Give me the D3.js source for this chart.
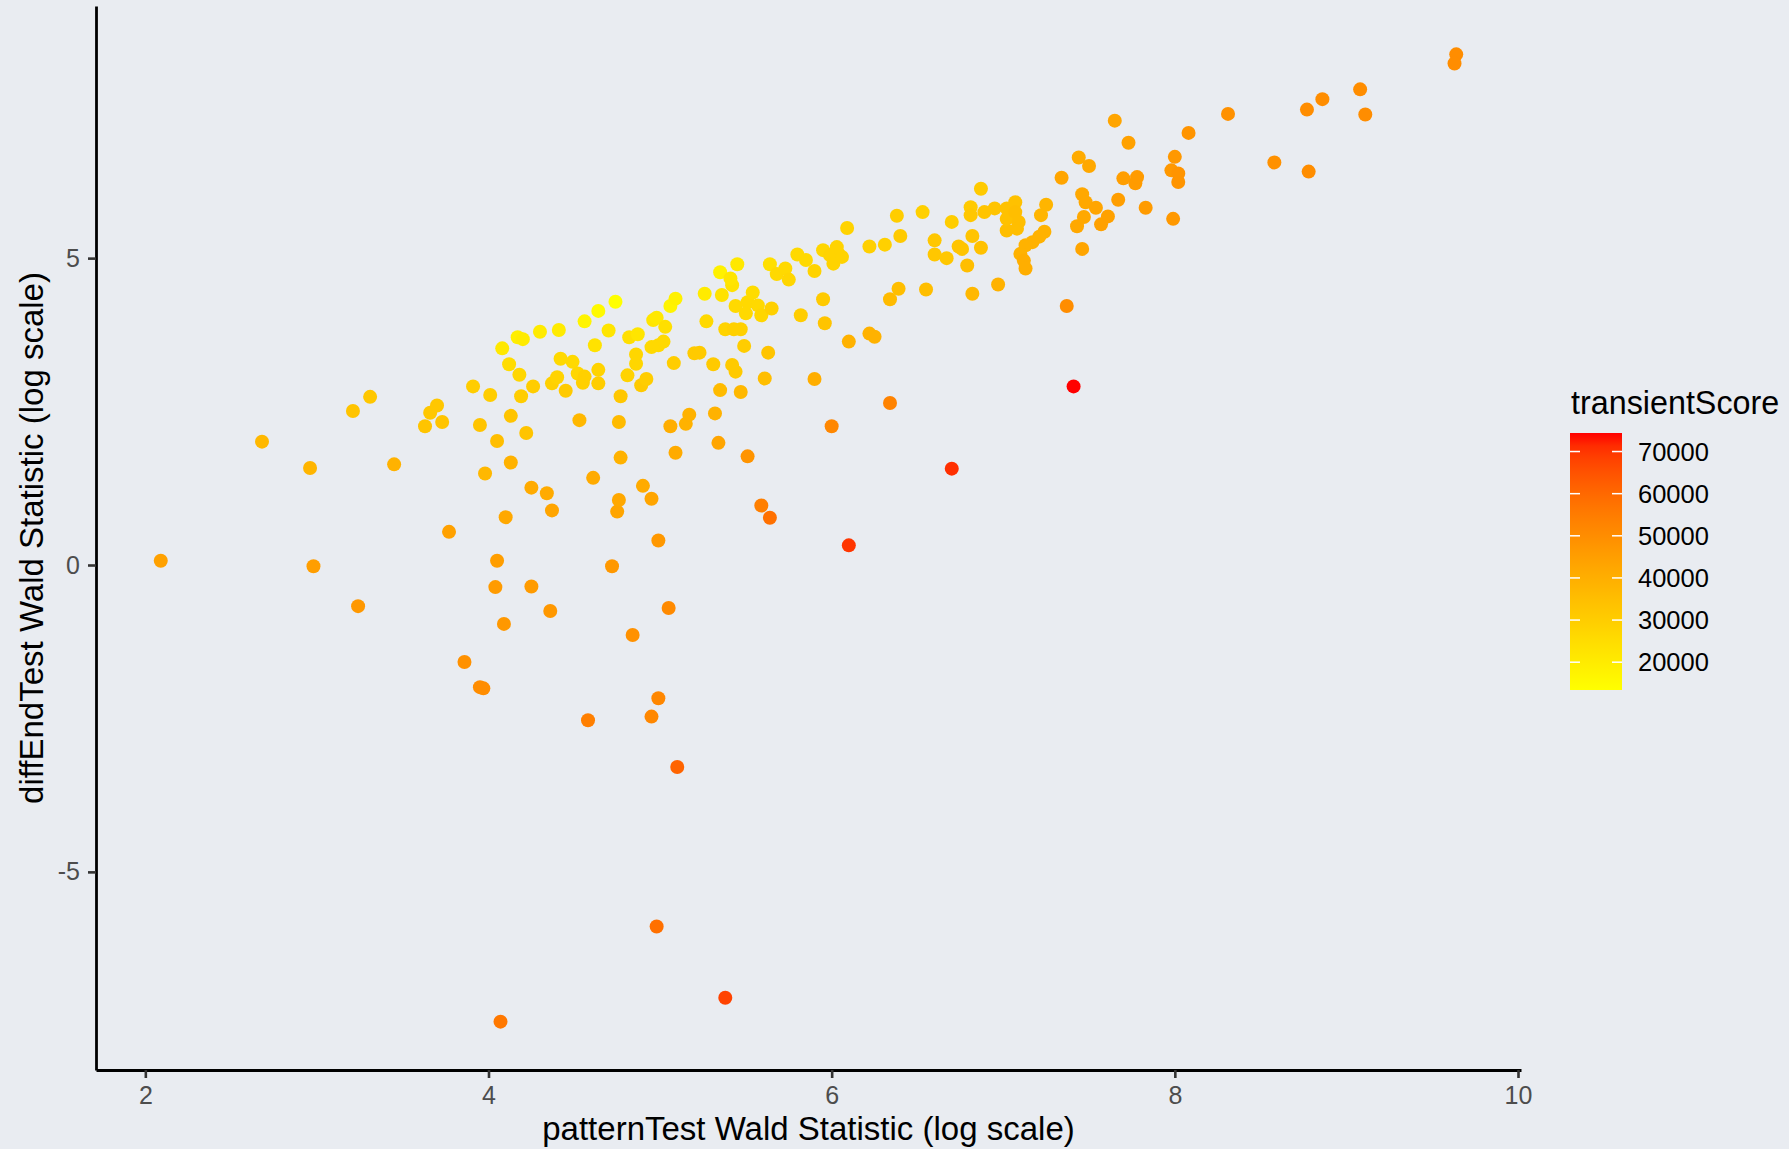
<!DOCTYPE html>
<html>
<head>
<meta charset="utf-8">
<script src="https://cdn.jsdelivr.net/npm/d3@7"></script>
<style>
  html, body { margin: 0; padding: 0; background: #e9ecf1; }
  svg { display: block; font-family: "Liberation Sans", Arial, Helvetica, sans-serif; }
</style>
</head>
<body>
<svg id="chart" width="1789" height="1149"></svg>
<script>
// ---- data ----
const patternTest = [
  2.09, 2.68, 2.96, 2.98, 3.21, 3.31, 3.24, 3.45, 3.63, 3.66,
  3.70, 3.73, 3.77, 3.86, 3.95, 3.97, 3.91, 3.95, 3.98, 4.01,
  4.05, 4.04, 4.05, 4.08, 4.09, 4.10, 4.07, 4.12, 4.13, 4.13,
  4.17, 4.18, 4.20, 4.19, 4.22, 4.25, 4.25, 4.26, 4.30, 4.34,
  4.36, 4.37, 4.37, 4.40, 4.41, 4.42, 4.45, 4.49, 4.52, 4.53,
  4.56, 4.55, 4.56, 4.58, 4.61, 4.62, 4.64, 4.64, 4.64, 4.70,
  4.72, 4.74, 4.75, 4.76, 4.76, 4.77, 4.77, 4.81, 4.82, 4.84,
  4.86, 4.86, 4.87, 4.89, 4.90, 4.92, 4.95, 4.95, 4.95, 4.96,
  4.98, 4.99, 4.99, 4.98, 4.99, 5.02, 5.03, 5.05, 5.06, 5.06,
  5.08, 5.09, 5.09, 5.10, 5.15, 5.17, 5.20, 5.23, 5.26, 5.27,
  5.31, 5.32, 5.34, 5.35, 5.35, 5.36, 5.38, 5.38, 5.42, 5.41,
  5.42, 5.45, 5.43, 5.44, 5.44, 5.47, 5.47, 5.49, 5.51, 5.50,
  5.51, 5.54, 5.57, 5.59, 5.59, 5.61, 5.63, 5.64, 5.64, 5.65,
  5.68, 5.73, 5.75, 5.80, 5.82, 5.85, 5.90, 5.90, 5.95, 5.95,
  5.99, 5.96, 6.01, 6.00, 6.04, 6.03, 6.06, 6.09, 6.10, 6.10,
  6.22, 6.22, 6.25, 6.31, 6.34, 6.34, 6.39, 6.38, 6.40, 6.53,
  6.55, 6.60, 6.60, 6.67, 6.70, 6.70, 6.74, 6.76, 6.79, 6.82,
  6.81, 6.81, 6.82, 6.87, 6.87, 6.89, 6.95, 6.97, 7.02, 7.02,
  7.02, 7.07, 7.07, 7.09, 7.08, 7.25, 7.22, 7.24, 7.21, 7.17,
  7.13, 7.10, 7.12, 7.13, 7.34, 7.37, 7.41, 7.43, 7.44, 7.46,
  7.47, 7.46, 7.48, 7.50, 7.54, 7.57, 7.61, 7.65, 7.67, 7.70,
  7.73, 7.77, 7.78, 7.83, 7.98, 8.00, 7.99, 8.02, 8.02, 8.08,
  8.31, 8.58, 8.77, 8.78, 8.86, 9.08, 9.11, 9.64, 9.63
];
const diffEndTest = [
  0.07, 2.01, 1.58, -0.02, 2.51, 2.74, -0.67, 1.64, 2.26, 2.48,
  2.60, 2.33, 0.54, -1.58, -1.99, -2.01, 2.91, 2.28, 1.49, 2.77,
  0.07, -0.36, 2.02, 3.53, -0.96, 0.78, -7.44, 3.27, 1.67, 2.43,
  3.71, 3.10, 3.68, 2.75, 2.15, 1.26, -0.35, 2.91, 3.80, 1.17,
  -0.75, 0.89, 2.96, 3.06, 3.83, 3.36, 2.84, 3.31, 3.12, 2.36,
  3.07, 2.97, 3.97, -2.53, 1.42, 3.58, 3.18, 4.14, 2.96, 3.82,
  -0.02, 4.29, 0.87, 2.33, 1.06, 2.75, 1.75, 3.09, 3.71, -1.14,
  3.43, 3.28, 3.76, 2.93, 1.29, 3.03, 1.08, -2.47, 3.55, 3.99,
  -5.89, -2.17, 0.40, 4.03, 3.58, 3.64, 3.88, -0.70, 4.22, 2.26,
  3.29, 1.83, 4.34, -3.29, 2.30, 2.45, 3.45, 3.46, 4.42, 3.97,
  3.27, 2.47, 1.99, 2.85, 4.77, 4.40, 3.84, -7.05, 4.56, 4.67,
  3.26, 4.90, 3.84, 3.15, 4.22, 3.84, 2.82, 3.57, 1.77, 4.10,
  4.28, 4.44, 4.23, 4.07, 0.97, 3.04, 3.46, 4.90, 0.77, 4.18,
  4.74, 4.83, 4.65, 5.06, 4.07, 4.97, 3.03, 4.79, 5.13, 4.33,
  5.05, 3.94, 4.91, 2.26, 5.07, 5.18, 5.02, 5.49, 3.64, 0.32,
  3.77, 5.19, 3.72, 5.22, 4.33, 2.64, 4.50, 5.69, 5.36, 5.75,
  4.49, 5.29, 5.06, 5.00, 5.59, 1.57, 5.19, 5.15, 4.88, 5.36,
  5.83, 5.70, 4.42, 5.17, 6.13, 5.75, 5.81, 4.57, 5.81, 5.45,
  5.64, 5.91, 5.75, 5.59, 5.48, 5.87, 5.70, 5.43, 5.35, 5.26,
  5.21, 5.07, 4.96, 4.83, 6.31, 4.22, 2.91, 5.52, 6.64, 6.04,
  5.67, 5.15, 5.91, 6.50, 5.82, 5.55, 5.68, 7.24, 5.95, 6.30,
  6.88, 6.22, 6.32, 5.82, 6.43, 6.65, 5.64, 6.38, 6.24, 7.04,
  7.35, 6.56, 7.42, 6.41, 7.59, 7.75, 7.34, 8.32, 8.17
];
const transientScore = [
  44000, 37000, 38000, 45000, 33000, 32000, 47000, 39000, 33000, 32000,
  32000, 33000, 44000, 49000, 50000, 50000, 30000, 33000, 37000, 30000,
  45000, 46000, 35000, 21000, 47000, 42000, 56000, 25000, 39000, 33000,
  19000, 27000, 20000, 30000, 33000, 41000, 46000, 30000, 20000, 41000,
  47000, 43000, 29000, 28000, 20000, 26000, 31000, 26000, 27000, 37000,
  29000, 29000, 17000, 54000, 41000, 23000, 28000, 15000, 30000, 22000,
  47000, 13400, 43000, 36000, 42000, 32000, 39000, 28000, 24000, 49000,
  27000, 27000, 22000, 31000, 41000, 30000, 43000, 52000, 26000, 22000,
  58000, 52000, 47000, 21000, 26000, 26000, 24000, 51000, 17000, 40000,
  30000, 41000, 18000, 61000, 39000, 39000, 31000, 31000, 20000, 26000,
  31000, 39000, 43000, 36000, 18000, 23000, 28000, 68000, 23000, 22000,
  31000, 21000, 29000, 31000, 26000, 29000, 37000, 30000, 48000, 26000,
  26000, 25000, 26000, 27000, 54000, 35000, 33000, 24000, 58000, 29000,
  26000, 26000, 27000, 26000, 30000, 26000, 40000, 28000, 27000, 31000,
  28000, 33000, 28000, 52000, 28000, 28000, 28000, 28000, 39000, 70000,
  39000, 29000, 39000, 29000, 36000, 53000, 35000, 30000, 31000, 29000,
  35000, 32000, 32000, 32000, 30000, 71000, 33000, 33000, 35000, 33000,
  31000, 32000, 37000, 34000, 31000, 33000, 33000, 39000, 34000, 35000,
  34000, 34000, 35000, 35000, 35000, 38000, 38000, 39000, 39000, 39000,
  39000, 39000, 40000, 40000, 43000, 50000, 74400, 42000, 41000, 42000,
  42000, 43000, 42000, 42000, 43000, 44000, 44000, 43000, 45000, 45000,
  44000, 46000, 46000, 46000, 47000, 47000, 47000, 48000, 48000, 48000,
  49000, 49000, 50000, 50000, 50000, 50000, 50000, 50000, 50000
];
const xTicks = [2, 4, 6, 8, 10];
const yTicks = [-5, 0, 5];
const legendTicks = [20000, 30000, 40000, 50000, 60000, 70000];
const xTitle = "patternTest Wald Statistic (log scale)";
const yTitle = "diffEndTest Wald Statistic (log scale)";
const legendTitle = "transientScore";

// ---- drawing ----
const svg = d3.select("#chart");
const W = 1789, H = 1149;
svg.append("rect").attr("width", W).attr("height", H).attr("fill", "#e9ecf1");

const panel = { left: 96, right: 1521, top: 6, bottom: 1070 };
function expand(ext, f = 0.05) {
  const d = (ext[1] - ext[0]) * f;
  return [ext[0] - d, ext[1] + d];
}
const x = d3.scaleLinear().domain(expand(d3.extent(patternTest))).range([panel.left, panel.right]);
const y = d3.scaleLinear().domain(expand(d3.extent(diffEndTest))).range([panel.bottom, panel.top]);
const scoreExtent = d3.extent(transientScore);
const color = d3.scaleLinear().domain(scoreExtent).range(["yellow", "red"]).interpolate(d3.interpolateLab);

const points = patternTest.map((d, i) => ({ x: d, y: diffEndTest[i], s: transientScore[i] }));

svg.append("g").selectAll("circle").data(points).join("circle")
  .attr("cx", d => x(d.x))
  .attr("cy", d => y(d.y))
  .attr("r", 7)
  .attr("fill", d => color(d.s));

// axes
const xAxis = svg.append("g").attr("transform", `translate(0,${panel.bottom})`)
  .call(d3.axisBottom(x).tickValues(xTicks).tickSize(8).tickSizeOuter(0).tickPadding(8).tickFormat(d3.format("d")));
const yAxis = svg.append("g").attr("transform", `translate(${panel.left},0)`)
  .call(d3.axisLeft(y).tickValues(yTicks).tickSize(8).tickSizeOuter(0).tickPadding(8).tickFormat(d => d3.format("d")(d).replace("−", "-")));

[xAxis, yAxis].forEach(g => {
  g.select(".domain").attr("stroke", "#000").attr("stroke-width", 2.8);
  g.selectAll(".tick line").attr("stroke", "#333333").attr("stroke-width", 2.6);
  g.selectAll(".tick text").attr("fill", "#4d4d4d").attr("font-size", 25)
    .attr("font-family", '"Liberation Sans", Arial, sans-serif');
});

// axis titles
svg.append("text").attr("x", (panel.left + panel.right) / 2).attr("y", 1140)
  .attr("text-anchor", "middle").attr("font-size", 33).attr("fill", "#000").text(xTitle);
svg.append("text").attr("transform", `translate(43,${(panel.top + panel.bottom) / 2}) rotate(-90)`)
  .attr("text-anchor", "middle").attr("font-size", 33).attr("fill", "#000").text(yTitle);

// legend
const lg = { x: 1570, w: 52, top: 433, bottom: 690 };
const ly = d3.scaleLinear().domain(scoreExtent).range([lg.bottom, lg.top]);
const defs = svg.append("defs");
const grad = defs.append("linearGradient").attr("id", "lgGrad")
  .attr("x1", 0).attr("y1", 1).attr("x2", 0).attr("y2", 0);
d3.range(0, 1.0001, 0.05).forEach(t => {
  grad.append("stop").attr("offset", t)
    .attr("stop-color", color(scoreExtent[0] + t * (scoreExtent[1] - scoreExtent[0])));
});
svg.append("rect").attr("x", lg.x).attr("y", lg.top).attr("width", lg.w).attr("height", lg.bottom - lg.top)
  .attr("fill", "url(#lgGrad)");
const lt = svg.append("g");
legendTicks.forEach(v => {
  const yy = ly(v);
  lt.append("line").attr("x1", lg.x).attr("x2", lg.x + 10).attr("y1", yy).attr("y2", yy)
    .attr("stroke", "#fff").attr("stroke-width", 1.5);
  lt.append("line").attr("x1", lg.x + lg.w - 10).attr("x2", lg.x + lg.w).attr("y1", yy).attr("y2", yy)
    .attr("stroke", "#fff").attr("stroke-width", 1.5);
  lt.append("text").attr("x", 1638).attr("y", yy).attr("dy", "0.36em")
    .attr("font-size", 25.5).attr("fill", "#000").text(v);
});
svg.append("text").attr("x", 1571).attr("y", 414).attr("font-size", 32.3).attr("fill", "#000").text(legendTitle);
</script>
</body>
</html>
